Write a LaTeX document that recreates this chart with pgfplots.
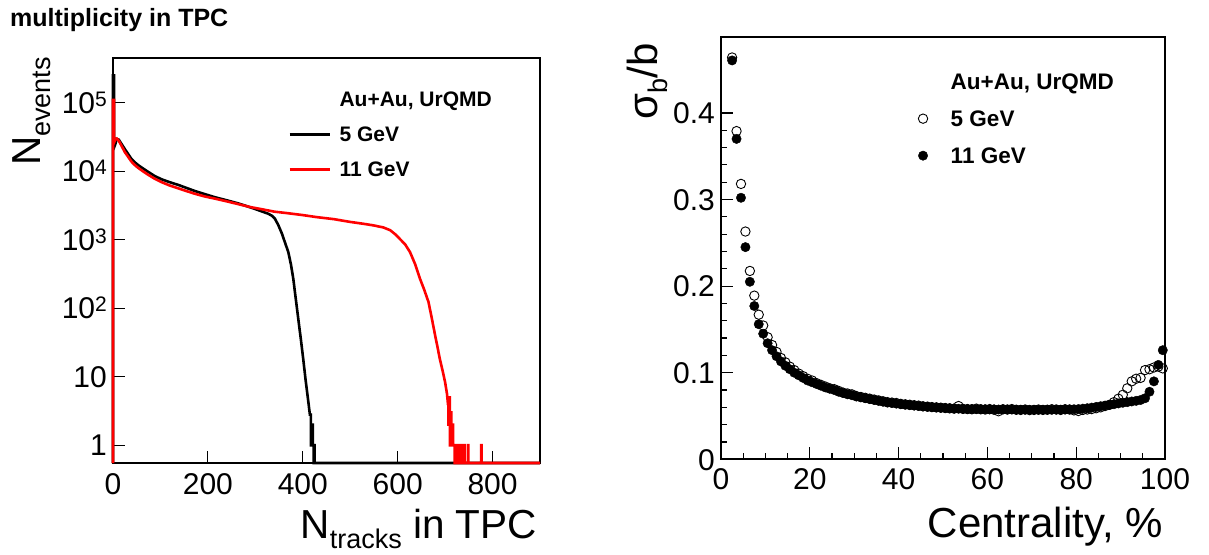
\documentclass[border=0pt]{standalone}
\usepackage{fontspec}
\setmainfont{Liberation Sans}
\usepackage{pgfplots}
\pgfplotsset{compat=1.18}
\newcommand{\tickfont}{\fontsize{30}{36}\selectfont}
\newcommand{\legfont}{\fontsize{21}{25}\selectfont\bfseries}
\newcommand{\legfontR}{\fontsize{22.5}{26}\selectfont\bfseries}
\newcommand{\supf}[1]{\raisebox{7pt}{\fontsize{21}{24}\selectfont #1}}
\newcommand{\subf}[1]{\raisebox{-10pt}{\fontsize{27}{30}\selectfont #1}}

\pgfplotstableread{
x y
0 0.55
0 250000
2 250000
2 22000
5 25000
8 29500
12 29000
18 25000
25 21000
32 17800
39 15100
46 13500
53 12300
63 11000
74 9800
88 8500
103 7600
120 6900
138 6300
155 5700
173 5130
194 4620
215 4170
240 3760
264 3390
282 3090
299 2820
315 2570
327 2400
335 2240
341 2040
348 1660
356 1230
363 890
369.5 660
375 437
380 270
385 141
390.6 69
396 35
401 18
406 8.9
411.7 4.3
415 2.8
417 2.8
417 1
419 1
419 2
421 2
421 1
423 1
423 0.55
424 0.55
424 1
425 1
425 0.55
900 0.55
}\blackdata

\pgfplotstableread{
x y
0 0.55
0 110000
2 110000
2 26000
5 29000
8 30000
12 28000
18 23500
25 19000
32 16200
39 13800
46 12300
53 11200
63 10000
74 8900
88 7760
103 6900
120 6170
138 5620
155 5130
173 4680
194 4270
215 3980
240 3630
264 3310
290 2990
310 2820
340 2570
366 2450
400 2290
429 2140
465 2000
500 1820
530 1700
549 1620
570 1510
584 1380
595 1200
605 1020
616 850
626 660
637 437
647 270
656 186
665 123
672 71
679 40
684 27
689 18
695 12
700 8.3
704 5.6
706 4
707 4
707 2
709 2
709 5
710 5
710 1
712 1
712 3
713 3
713 1
716 1
716 2
717 2
717 1
720 1
720 0.55
721 0.55
721 1
724 1
724 0.55
725 0.55
725 1
731 1
731 0.55
733 0.55
733 1
735 1
735 0.55
740 0.55
740 1
741 1
741 0.55
748 0.55
748 1
749 1
749 0.55
776 0.55
776 1
777 1
777 0.55
900 0.55
}\reddata

\pgfplotstableread{
x y
2.5 0.464
3.5 0.379
4.5 0.318
5.5 0.263
6.5 0.2175
7.5 0.189
8.5 0.167
9.5 0.1545
10.5 0.141
11.5 0.132
12.5 0.124
13.5 0.117
14.5 0.112
15.5 0.107
16.5 0.103
17.5 0.099
18.5 0.096
19.5 0.093
20.5 0.091
21.5 0.088
22.5 0.086
23.5 0.084
24.5 0.082
25.5 0.081
26.5 0.079
27.5 0.077
28.5 0.076
29.5 0.075
30.5 0.073
31.5 0.072
32.5 0.071
33.5 0.070
34.5 0.069
35.5 0.068
36.5 0.067
37.5 0.066
38.5 0.0655
39.5 0.065
40.5 0.064
41.5 0.0635
42.5 0.063
43.5 0.0625
44.5 0.062
45.5 0.0612
46.5 0.0608
47.5 0.0603
48.5 0.060
49.5 0.0596
50.5 0.0592
51.5 0.0588
52.5 0.0585
53.5 0.0615
54.5 0.0582
55.5 0.058
56.5 0.0578
57.5 0.0585
58.5 0.0578
59.5 0.0575
60.5 0.058
61.5 0.0572
62.5 0.0555
63.5 0.0578
64.5 0.0575
65.5 0.058
66.5 0.0572
67.5 0.057
68.5 0.0575
69.5 0.0568
70.5 0.057
71.5 0.0575
72.5 0.057
73.5 0.0572
74.5 0.0578
75.5 0.0575
76.5 0.057
77.5 0.0578
78.5 0.0575
79.5 0.0565
80.5 0.0558
81.5 0.057
82.5 0.0575
83.5 0.058
84.5 0.059
85.5 0.060
86.5 0.0615
87.5 0.063
88.5 0.066
89.5 0.070
90.5 0.0745
91.5 0.082
92.5 0.090
93.5 0.093
94.5 0.094
95.5 0.103
96.5 0.104
97.5 0.106
98.5 0.107
99.5 0.105
}\opendata

\pgfplotstableread{
x y
2.5 0.4606
3.5 0.370
4.5 0.302
5.5 0.245
6.5 0.205
7.5 0.177
8.5 0.156
9.5 0.145
10.5 0.134
11.5 0.126
12.5 0.119
13.5 0.113
14.5 0.108
15.5 0.104
16.5 0.100
17.5 0.097
18.5 0.094
19.5 0.091
20.5 0.089
21.5 0.087
22.5 0.085
23.5 0.083
24.5 0.0815
25.5 0.080
26.5 0.078
27.5 0.0765
28.5 0.075
29.5 0.074
30.5 0.0725
31.5 0.0715
32.5 0.0705
33.5 0.0695
34.5 0.0685
35.5 0.0675
36.5 0.0665
37.5 0.0655
38.5 0.065
39.5 0.0643
40.5 0.0636
41.5 0.063
42.5 0.0625
43.5 0.062
44.5 0.0615
45.5 0.061
46.5 0.0606
47.5 0.0602
48.5 0.0598
49.5 0.0595
50.5 0.0592
51.5 0.059
52.5 0.0587
53.5 0.0584
54.5 0.0582
55.5 0.058
56.5 0.0579
57.5 0.0578
58.5 0.0577
59.5 0.0578
60.5 0.0576
61.5 0.0577
62.5 0.0575
63.5 0.0576
64.5 0.0574
65.5 0.0575
66.5 0.0573
67.5 0.0572
68.5 0.0573
69.5 0.0571
70.5 0.0572
71.5 0.0571
72.5 0.0572
73.5 0.0573
74.5 0.0572
75.5 0.0574
76.5 0.0573
77.5 0.0575
78.5 0.0576
79.5 0.0578
80.5 0.058
81.5 0.0585
82.5 0.059
83.5 0.0597
84.5 0.0605
85.5 0.0613
86.5 0.062
87.5 0.0628
88.5 0.0636
89.5 0.0645
90.5 0.0653
91.5 0.066
92.5 0.0668
93.5 0.0675
94.5 0.0685
95.5 0.0705
96.5 0.078
97.5 0.090
98.5 0.109
99.5 0.126
}\filleddata

\begin{document}
\begin{tikzpicture}
\useasboundingbox (0pt,0pt) rectangle (1209pt,554pt);
\pgfplotsset{
  rootstyle/.style={
    scale only axis,
    anchor=south west,
    tick align=inside,
    xtick pos=bottom, ytick pos=left,
    major tick length=12pt, minor tick length=6pt,
    axis line style={line width=1.8pt},
    every tick/.style={line width=1.2pt, black},
    ticklabel style={font=\tickfont},
    legend cell align=left,
  }
}
% ---------------- left panel ----------------
\begin{axis}[rootstyle,
  at={(113pt,91pt)}, width=427pt, height=405pt,
  ymode=log, log basis y=10,
  xmin=0, xmax=900, ymin=0.55, ymax=4.5e5,
  xtick={0,200,400,600,800}, xticklabels={0,200,400,600,800},
  ytick={1,10,100,1000,10000,100000},
  yticklabels={1,10,10\supf{2},10\supf{3},10\supf{4},10\supf{5}},
  xticklabel style={inner sep=0pt, anchor=north, yshift=-10.5pt},
  yticklabel style={inner sep=0pt, anchor=base east, xshift=-6pt, yshift=-10.7pt},
  clip=false,
  legend style={draw=none, fill=none, at={(axis description cs:0.410,0.917)}, anchor=north west,
    font=\legfont, inner sep=0pt, row sep=20pt,
    nodes={inner sep=0pt, text height=15pt, text depth=0pt},
    /tikz/every odd column/.append style={column sep=8.7pt}},
  legend image code/.code={\draw[#1] (0pt,0pt) -- (40pt,0pt);},
]
\addlegendimage{empty legend}
\addlegendentry{Au+Au, UrQMD}
\addplot[black, line width=2.6pt, line join=miter] table[x=x,y=y] {\blackdata};
\addlegendentry{5 GeV}
\addplot[red, line width=2.6pt, line join=miter] table[x=x,y=y] {\reddata};
\addlegendentry{11 GeV}
\end{axis}

% ---------------- right panel ----------------
\begin{axis}[rootstyle,
  at={(721pt,94.7pt)}, width=444pt, height=422.6pt,
  xmin=0, xmax=100, ymin=0, ymax=0.488,
  xtick={0,20,40,60,80,100}, xticklabels={0,20,40,60,80,100},
  ytick={0,0.1,0.2,0.3,0.4}, yticklabels={0,0.1,0.2,0.3,0.4},
  minor x tick num=3, minor y tick num=4,
  xticklabel style={inner sep=0pt, anchor=north, yshift=-9.5pt},
  yticklabel style={inner sep=0pt, anchor=base east, xshift=-6pt, yshift=-10.7pt},
  legend style={draw=none, fill=none, at={(axis description cs:0.444,0.913)}, anchor=north west,
    font=\legfontR, inner sep=0pt, row sep=21pt,
    nodes={inner sep=0pt, text height=16pt, text depth=0pt},
    /tikz/every odd column/.append style={column sep=23pt}},
  legend image code/.code={\draw[#1] plot coordinates {(0pt,0pt)};},
]
\addlegendimage{empty legend}
\addlegendentry{Au+Au, UrQMD}
\addplot[only marks, mark=o, mark size=4.7pt, mark options={line width=0.9pt, black}] table[x=x,y=y] {\opendata};
\addlegendentry{5 GeV}
\addplot[only marks, mark=*, mark size=4.7pt, mark options={black, fill=black}] table[x=x,y=y] {\filleddata};
\addlegendentry{11 GeV}
\end{axis}

% ---------------- titles and axis labels ----------------
\node[anchor=base west, inner sep=0pt, font=\fontsize{25}{29}\selectfont\bfseries] at (10pt,527pt) {multiplicity in TPC};
\node[anchor=base east, inner sep=0pt, font=\fontsize{40.5}{48}\selectfont] at (537pt,16pt) {N\subf{tracks} in TPC};
\node[rotate=90, anchor=base east, inner sep=0pt, font=\fontsize{40.5}{48}\selectfont] at (40pt,497pt) {N\subf{events}};
\node[anchor=base east, inner sep=0pt, font=\fontsize{42}{50}\selectfont] at (1163pt,17pt) {Centrality, \%};
\node[rotate=90, anchor=base east, inner sep=0pt, font=\fontsize{42}{50}\selectfont] at (657pt,511pt) {σ\subf{b}/b};
\end{tikzpicture}
\end{document}
